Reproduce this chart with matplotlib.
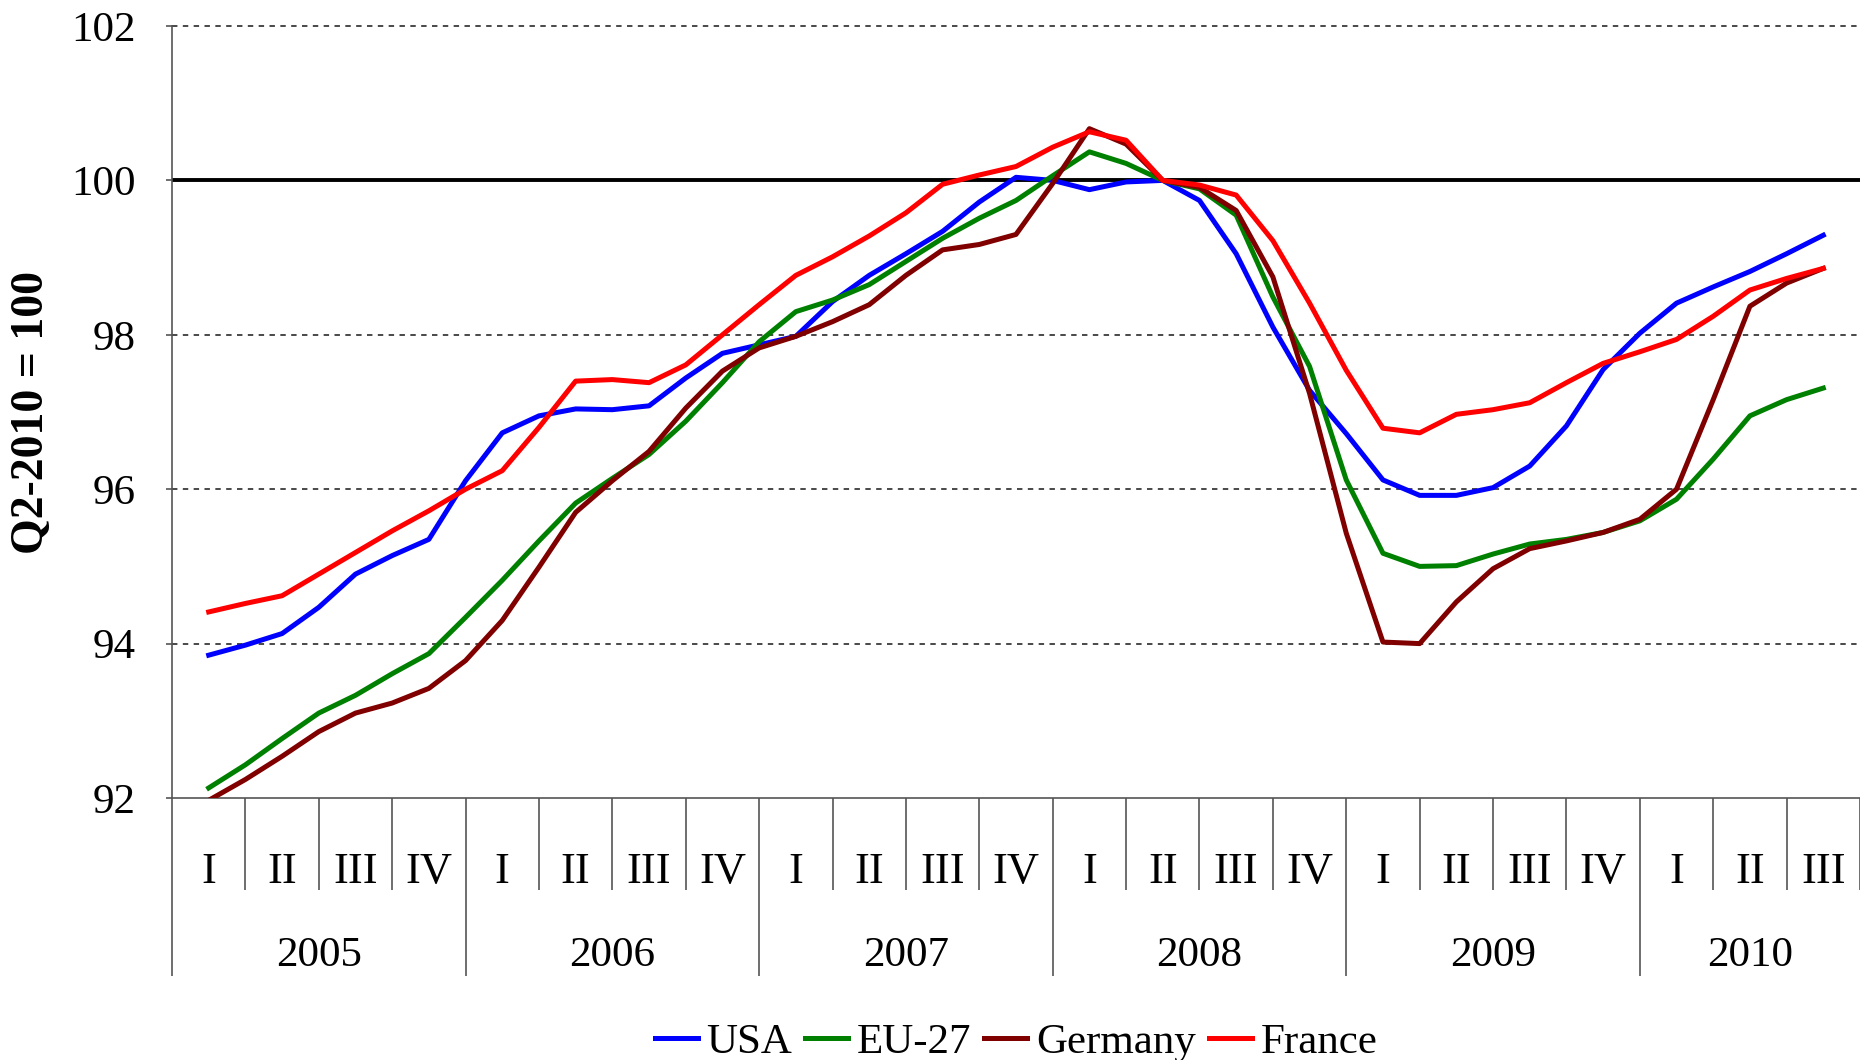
import numpy as np
import matplotlib
matplotlib.use("Agg")
import matplotlib.pyplot as plt

years = ["2005", "2006", "2007", "2008", "2009", "2010"]
quarters = ["I", "II", "III", "IV"] * 5 + ["I", "II", "III"]

# index values read every half quarter, 2005 Q1 .. 2010 Q3 (Q2-2010 = 100)
usa = [93.85, 93.98, 94.13, 94.47, 94.90, 95.14, 95.35, 96.11, 96.73, 96.95,
       97.04, 97.03, 97.08, 97.44, 97.76, 97.87, 97.98, 98.43, 98.77, 99.05,
       99.34, 99.72, 100.04, 100.00, 99.88, 99.98, 100.00, 99.74, 99.05, 98.10,
       97.28, 96.72, 96.12, 95.92, 95.92, 96.02, 96.30, 96.82, 97.55, 98.02,
       98.41, 98.62, 98.82, 99.05, 99.29]
eu27 = [92.13, 92.43, 92.77, 93.10, 93.33, 93.61, 93.87, 94.34, 94.82, 95.33,
        95.82, 96.14, 96.45, 96.88, 97.38, 97.91, 98.30, 98.45, 98.65, 98.95,
        99.25, 99.51, 99.74, 100.06, 100.37, 100.22, 100.00, 99.89, 99.55, 98.49,
        97.59, 96.12, 95.17, 95.00, 95.01, 95.16, 95.29, 95.35, 95.44, 95.59,
        95.87, 96.39, 96.95, 97.16, 97.31]
germany = [91.97, 92.24, 92.54, 92.86, 93.10, 93.23, 93.42, 93.78, 94.30, 94.99,
           95.70, 96.11, 96.49, 97.05, 97.53, 97.83, 97.98, 98.17, 98.39, 98.77,
           99.10, 99.17, 99.30, 99.96, 100.67, 100.47, 100.00, 99.91, 99.61, 98.75,
           97.24, 95.43, 94.02, 94.00, 94.54, 94.97, 95.23, 95.33, 95.44, 95.61,
           96.00, 97.16, 98.37, 98.67, 98.86]
france = [94.41, 94.52, 94.62, 94.90, 95.18, 95.46, 95.72, 96.00, 96.24, 96.80,
          97.40, 97.42, 97.38, 97.61, 98.00, 98.39, 98.77, 99.01, 99.28, 99.58,
          99.95, 100.07, 100.18, 100.43, 100.63, 100.52, 100.00, 99.94, 99.81, 99.22,
          98.41, 97.54, 96.79, 96.73, 96.97, 97.03, 97.12, 97.38, 97.63, 97.78,
          97.94, 98.24, 98.58, 98.73, 98.86]

steps = np.arange(len(usa)) / 2.0

plt.rcParams["font.family"] = ["Liberation Serif", "DejaVu Serif"]
W, H = 1860, 1060
fig = plt.figure(figsize=(W / 100, H / 100), dpi=100)
ax = fig.add_axes([172 / W, 1 - 798 / H, 1 - 172 / W, (798 - 26) / H])

lw = 3.6
ax.plot(steps, usa, color="#0000FF", lw=lw, label="USA", zorder=3)
ax.plot(steps, eu27, color="#008000", lw=lw, label="EU-27", zorder=3)
ax.plot(steps, germany, color="#800000", lw=lw, label="Germany", zorder=3)
ax.plot(steps, france, color="#FF0000", lw=lw, label="France", zorder=4)

for v in [94, 96, 98, 102]:
    ax.axhline(v, color="#3a3a3a", lw=1.3, ls=(0, (3, 3)), zorder=1, clip_on=False)
ax.axhline(100, color="black", lw=2.8, zorder=2)

ax.set_xlim(-0.5, len(quarters) - 0.5)
ax.set_ylim(92, 102)
ax.set_yticks(np.arange(92, 103, 2))
ax.tick_params(axis="y", labelsize=31, length=4, width=1.2, color="#555555", pad=22)

for s in ["top", "right"]:
    ax.spines[s].set_visible(False)
for s in ["left", "bottom"]:
    ax.spines[s].set_color("#555555")
    ax.spines[s].set_linewidth(1.2)

# category axis: year separators long, quarter separators short
bounds = np.arange(len(quarters) + 1) - 0.5
year_b = [b for i, b in enumerate(bounds) if i % 4 == 0]
quarter_b = [b for i, b in enumerate(bounds) if i % 4 != 0]
ax.set_xticks(year_b)
ax.set_xticks(quarter_b, minor=True)
ax.tick_params(axis="x", which="major", length=128, width=1.2, color="#555555",
               labelbottom=False)
ax.tick_params(axis="x", which="minor", length=66, width=1.2, color="#555555",
               labelbottom=False)

trans = ax.get_xaxis_transform()
for i, q in enumerate(quarters):
    ax.text(i, -0.0955, q, transform=trans, ha="center", va="center", fontsize=32)
for j, y in enumerate(years):
    n = min(4, len(quarters) - 4 * j)
    ax.text(4 * j + (n - 1) / 2, -0.2045, y, transform=trans, ha="center",
            va="center", fontsize=31)

fig.text(32 / W, 1 - 412 / H, "Q2-2010 = 100", rotation=90, ha="center",
         va="center", fontsize=33, fontweight="bold")

fig.legend(loc="center", bbox_to_anchor=(1016 / W, 1 - 1042 / H), ncol=4,
           frameon=False, fontsize=31, handlelength=1.0, handletextpad=0.2,
           columnspacing=0.3, borderaxespad=0, borderpad=0)

fig.savefig("out.png", dpi=100)
